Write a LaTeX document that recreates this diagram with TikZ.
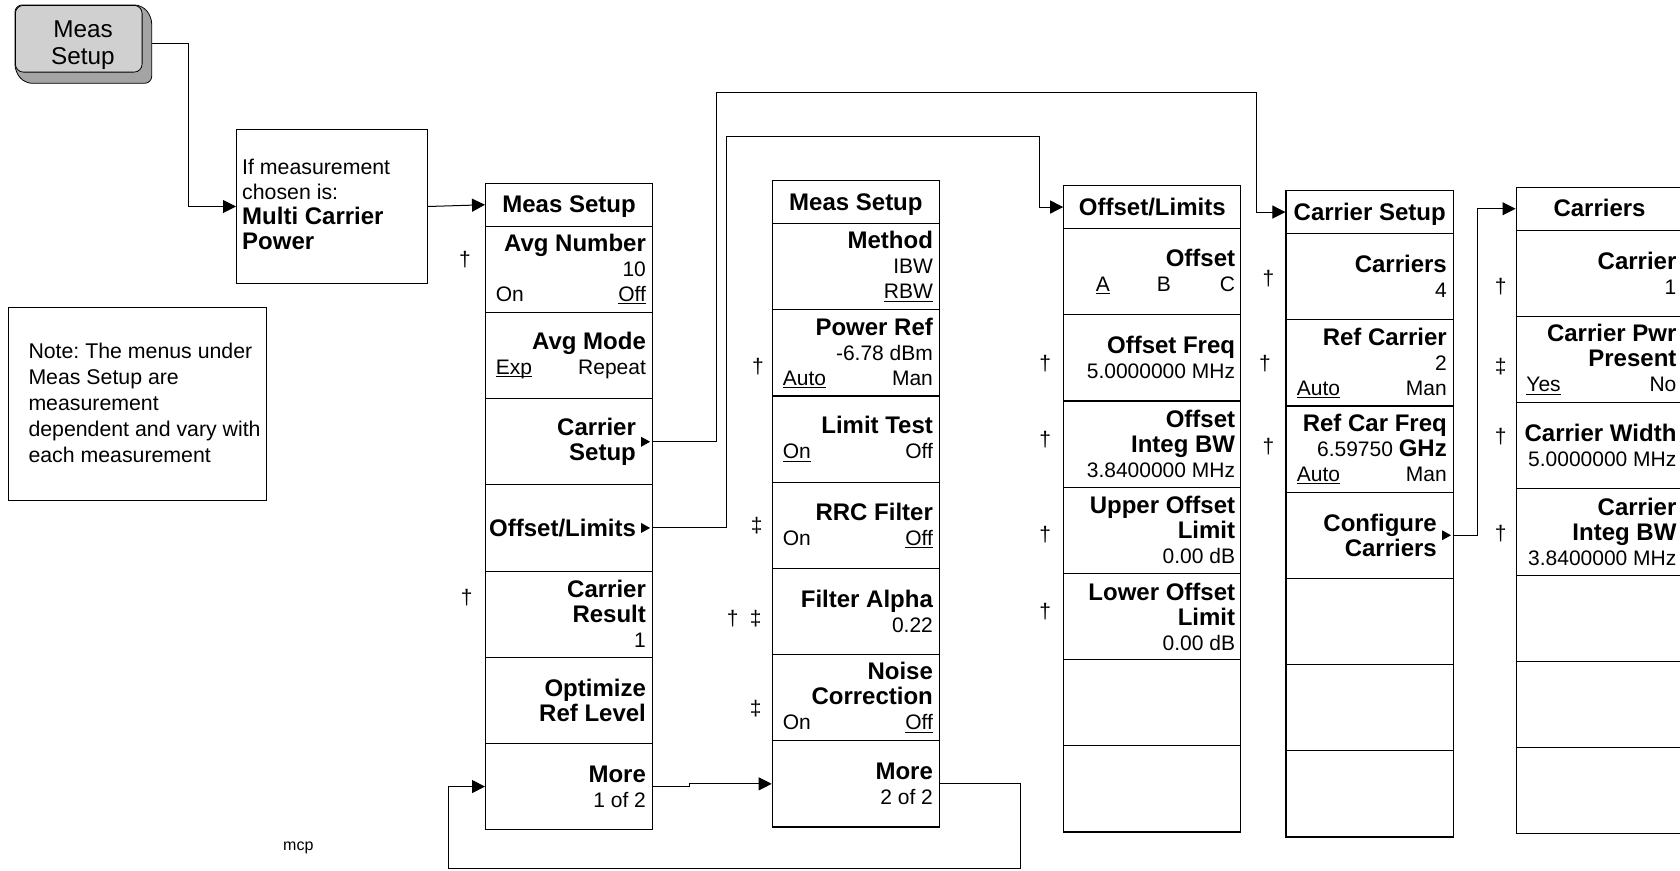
\documentclass[tikz,border=0pt]{standalone}
\usepackage{fontspec}
\setmainfont{Liberation Sans}
\usetikzlibrary{arrows.meta}
\frenchspacing
\definecolor{hkface}{HTML}{D0D0D0}
\definecolor{hkshadow}{HTML}{A4A4A4}
\newcommand\myul[1]{\setbox0=\hbox{#1}\rlap{\rule[-2.8pt]{\wd0}{1.1pt}}\box0}
\newcommand\kb[1]{{\fontsize{24}{25}\selectfont\bfseries #1}}
\newcommand\kl[1]{\makebox[150pt][r]{#1}}
\tikzset{
  mtitle/.style={draw, line width=1.1pt, minimum height=43pt, inner sep=0pt},
  mkey/.style={draw, line width=1.1pt, minimum height=86.2pt, inner sep=0pt},
  ttext/.style={font=\fontsize{24}{25}\selectfont\bfseries, inner sep=0pt},
  ktext/.style={font=\fontsize{21}{25}\selectfont, align=right, inner sep=0pt},
  dag/.style={font=\fontsize{21}{25}\selectfont, inner sep=0pt},
  arr/.style={line width=1pt, -{Triangle[length=13pt,width=13pt]}},
}
\newcommand\drawmenu[5]{%
  \node[mtitle, minimum width=#4pt, anchor=north west] (#1t) at (#2,#3) {};
  \node[ttext, anchor=base] (#1tt) at ([yshift=-8pt]#1t.center) {#5};
  \foreach \i in {1,...,7}{%
    \node[mkey, minimum width=#4pt, anchor=north west] (#1-\i) at (#2,{#3+43+(\i-1)*86.2}) {};
  }%
}
\newcommand\ktext[3][7]{\node[ktext, anchor=east] (#2x) at ([xshift=-#1pt]#2.east) {#3};}
\newcommand\subarrow[1]{\fill ([xshift=-12pt,yshift=5pt]#1.east) -- ([xshift=-3pt]#1.east) -- ([xshift=-12pt,yshift=-5pt]#1.east) -- cycle;}
\begin{document}
\begin{tikzpicture}[x=1pt,y=-1pt]
\useasboundingbox (0,0) rectangle (1680,870);

% hard key
\fill[hkshadow, draw=black, line width=0.8pt, rounded corners=7pt] (15,5) -- (141.7,5) -- (151.7,16.7) -- (151.7,83.3) -- (25,83.3) -- (15,71.7) -- cycle;
\node[draw, line width=0.8pt, fill=hkface, rounded corners=8pt, minimum width=126.7pt, minimum height=66.7pt, inner sep=0pt, anchor=north west] (hk) at (15,5) {};
\node[font=\fontsize{24.3}{26.7}\selectfont, align=center, inner sep=0pt] (hkt) at (83,45.4) {Meas\\Setup};
\coordinate (hkout) at (151.7,43.3);

% measurement box
\node[draw, line width=1pt, anchor=north west, minimum width=191pt, minimum height=154pt, inner sep=0pt] (ifbox) at (236,129) {};
\node[font=\fontsize{21.3}{25}\selectfont, align=left, anchor=west, inner sep=0pt] (iftext) at (242,204) {If measurement\\chosen is:\\\kb{Multi Carrier}\\\kb{Power}};

% note box
\node[draw, line width=1pt, anchor=north west, minimum width=257.4pt, minimum height=193.4pt, inner sep=0pt] (note) at (8.3,306.6) {};
\node[font=\fontsize{21.3}{26}\selectfont, align=left, anchor=west, inner sep=0pt] (notetext) at (28.3,402.8) {Note: The menus under\\Meas Setup are\\measurement\\dependent and vary with\\each measurement};

\node[font=\fontsize{16}{18}\selectfont, anchor=base west, inner sep=0pt] (mcp) at (283,850.6) {mcp};

% menus
\drawmenu{m1}{485}{182.7}{167}{Meas Setup}
\drawmenu{m2}{771.7}{180}{167.3}{Meas Setup}
\drawmenu{m3}{1063.2}{185}{177}{Offset/Limits}
\drawmenu{m4}{1285.4}{190}{167.5}{Carrier Setup}
\drawmenu{m5}{1515.5}{186.7}{167}{Carriers}

% menu 1
\ktext{m1-1}{\kl{\kb{Avg Number}}\\\kl{10}\\\kl{On\hfill\myul{Off}}}
\ktext{m1-2}{\kl{\kb{Avg Mode}}\\\kl{\myul{Exp}\hfill Repeat}}
\ktext[17]{m1-3}{\kl{\kb{Carrier}}\\\kl{\kb{Setup}}}
\subarrow{m1-3}
\ktext[17]{m1-4}{\kl{\kb{Offset/Limits}}}
\subarrow{m1-4}
\ktext{m1-5}{\kl{\kb{Carrier}}\\\kl{\kb{Result}}\\\kl{1}}
\ktext{m1-6}{\kl{\kb{Optimize}}\\\kl{\kb{Ref Level}}}
\ktext{m1-7}{\kl{\kb{More}}\\\kl{1 of 2}}

% menu 2
\ktext{m2-1}{\kl{\kb{Method}}\\\kl{IBW}\\\kl{\myul{RBW}}}
\ktext{m2-2}{\kl{\kb{Power Ref}}\\\kl{-6.78 dBm}\\\kl{\myul{Auto}\hfill Man}}
\ktext{m2-3}{\kl{\kb{Limit Test}}\\\kl{\myul{On}\hfill Off}}
\ktext{m2-4}{\kl{\kb{RRC Filter}}\\\kl{On\hfill\myul{Off}}}
\ktext{m2-5}{\kl{\kb{Filter Alpha}}\\\kl{0.22}}
\ktext{m2-6}{\kl{\kb{Noise}}\\\kl{\kb{Correction}}\\\kl{On\hfill\myul{Off}}}
\ktext{m2-7}{\kl{\kb{More}}\\\kl{2 of 2}}

% menu 3
\ktext[6]{m3-1}{\kl{\kb{Offset}}\\\kl{\myul{A}\hspace{47pt}B\hspace{49pt}C}}
\ktext[6]{m3-2}{\kl{\kb{Offset Freq}}\\\kl{5.0000000 MHz}}
\ktext[6]{m3-3}{\kl{\kb{Offset}}\\\kl{\kb{Integ BW}}\\\kl{3.8400000 MHz}}
\ktext[6]{m3-4}{\kl{\kb{Upper Offset}}\\\kl{\kb{Limit}}\\\kl{0.00 dB}}
\ktext[6]{m3-5}{\kl{\kb{Lower Offset}}\\\kl{\kb{Limit}}\\\kl{0.00 dB}}

% menu 4
\ktext{m4-1}{\kl{\kb{Carriers}}\\\kl{4}}
\ktext{m4-2}{\kl{\kb{Ref Carrier}}\\\kl{2}\\\kl{\myul{Auto}\hfill Man}}
\ktext{m4-3}{\kl{\kb{Ref Car Freq}}\\\kl{6.59750 \kb{GHz}}\\\kl{\myul{Auto}\hfill Man}}
\ktext[17]{m4-4}{\kl{\kb{Configure}}\\\kl{\kb{Carriers}}}
\subarrow{m4-4}

% menu 5
\ktext{m5-1}{\kl{\kb{Carrier}}\\\kl{1}}
\ktext{m5-2}{\kl{\kb{Carrier Pwr}}\\\kl{\kb{Present}}\\\kl{\myul{Yes}\hfill No}}
\ktext{m5-3}{\kl{\kb{Carrier Width}}\\\kl{5.0000000 MHz}}
\ktext{m5-4}{\kl{\kb{Carrier}}\\\kl{\kb{Integ BW}}\\\kl{3.8400000 MHz}}

% daggers
\node[dag] (d1) at (465,260) {†};
\node[dag] (d2) at (466.7,598) {†};
\node[dag] (d3) at (758,366.7) {†};
\node[dag] (d4) at (756.7,526) {‡};
\node[dag] (d5) at (732.8,618.3) {†};
\node[dag] (d6) at (755.7,618.3) {‡};
\node[dag] (d7) at (755.7,708.3) {‡};
\node[dag] (d8) at (1045.3,363.3) {†};
\node[dag] (d9) at (1045.3,440) {†};
\node[dag] (d10) at (1045.3,535) {†};
\node[dag] (d11) at (1045.3,611.7) {†};
\node[dag] (d12) at (1268.4,278.3) {†};
\node[dag] (d13) at (1265,363.3) {†};
\node[dag] (d14) at (1268.4,446.7) {†};
\node[dag] (d15) at (1500.6,286.7) {†};
\node[dag] (d16) at (1500.6,366.7) {‡};
\node[dag] (d17) at (1500.6,436.7) {†};
\node[dag] (d18) at (1500.6,533.3) {†};

% connectors
\draw[arr] (hkout) -- (188,43.3) |- (ifbox.west);
\draw[arr] (ifbox.east) -- (m1t.west);
\draw[arr] (m1-3.east) -| (716.7,92.3) -| ([xshift=-29.4pt]m4t.west) -- (m4t.west);
\draw[arr] (m1-4.east) -| (726,136) -| ([xshift=-24.2pt]m3t.west) -- (m3t.west);
\draw[arr] (m4-4.east) -| ([xshift=-38.5pt]m5t.west) -- (m5t.west);
\draw[arr] (m1-7.east) -- ++(36,0) |- (m2-7.west);
\draw[arr] (m2-7.east) -| (1020.5,868.3) -| ([xshift=-36.6pt]m1-7.west) -- (m1-7.west);
\end{tikzpicture}
\end{document}
